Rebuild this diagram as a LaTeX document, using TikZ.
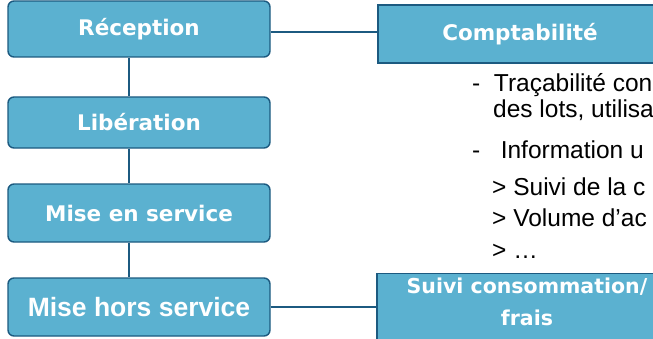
\documentclass[tikz,border=0pt]{standalone}
\usepackage{fontspec}
\setmainfont{Liberation Sans}
\newfontfamily\titlefont{DejaVu Sans}
\definecolor{boxfill}{RGB}{91,177,208}
\definecolor{boxline}{RGB}{28,90,128}

\begin{document}
\begin{tikzpicture}[x=1pt,y=1pt,
  stepbox/.style={draw=boxline,line width=1.4pt,fill=boxfill,rounded corners=6pt,
    minimum width=262pt,text=white,font=\titlefont\bfseries\fontsize{21.5}{26}\selectfont},
  sidebox/.style={draw=boxline,line width=1.4pt,fill=boxfill,
    text=white,font=\titlefont\bfseries\fontsize{21.5}{32}\selectfont},
  link/.style={draw=boxline,line width=1.4pt},
  bullet/.style={anchor=base west,inner sep=0pt,font=\fontsize{24.5}{28}\selectfont}]
\useasboundingbox (0,0) rectangle (653,338);
\clip (0,0) rectangle (653,338);
% Drawing life-cycle steps
\node[stepbox,minimum height=56pt] (rec) at (139,309) {Réception};
\node[stepbox,minimum height=51pt] (lib) at (139,215.5) {Libération};
\node[stepbox,minimum height=58pt] (mes) at (139,125) {Mise en service};
\node[stepbox,minimum height=58pt,font=\bfseries\fontsize{26.5}{30}\selectfont] (mhs) at (139,31) {Mise hors service};
% Drawing side boxes
\node[sidebox,minimum width=284pt,minimum height=58pt] (cpt) at (520,304) {Comptabilité};
\node[sidebox,minimum width=300pt,align=center,anchor=north,inner ysep=4pt,
  text depth=25pt,font=\titlefont\bfseries\fontsize{20.5}{32}\selectfont] (suivi) at (527,65) {Suivi consommation/\\frais};
% Drawing links
\draw[link] ([xshift=-10pt]rec.south) -- ([xshift=-10pt]lib.north);
\draw[link] ([xshift=-10pt]lib.south) -- ([xshift=-10pt]mes.north);
\draw[link] ([xshift=-10pt]mes.south) -- ([xshift=-10pt]mhs.north);
\draw[link] ([yshift=-3pt]rec.east) -- ([yshift=-3pt]rec.east -| cpt.west);
\draw[link] (mhs.east) -- (mhs.east -| suivi.west);
% Drawing text under Comptabilite
\node[bullet] (t1) at (472,247) {-\ \ Traçabilité con};
\node[bullet] (t2) at (493,220) {des lots, utilisa};
\node[bullet] (t3) at (472,180) {-\ \ \ Information u};
\node[bullet] (t4) at (492,143) {> Suivi de la c};
\node[bullet] (t5) at (492,112) {> Volume d’ac};
\node[bullet] (t6) at (492,80) {> …};
\end{tikzpicture}
\end{document}
